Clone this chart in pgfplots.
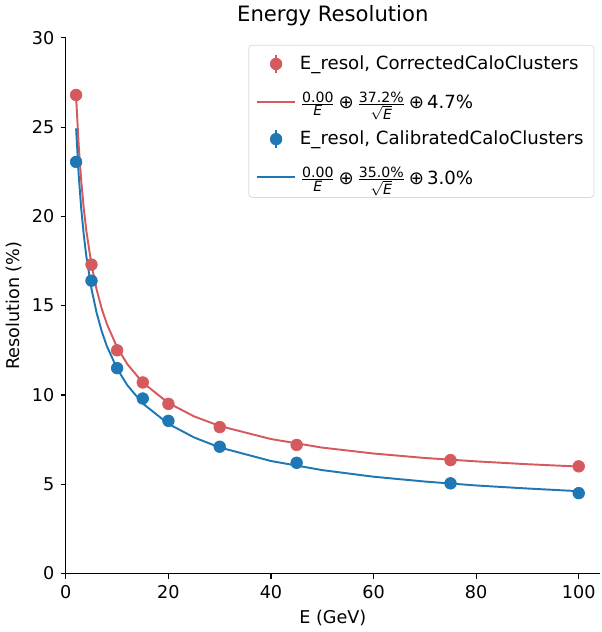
\documentclass[border=0pt]{standalone}
\usepackage{fontspec}
\setmainfont{DejaVu Sans}
\usepackage{pgfplots}
\pgfplotsset{compat=1.18}
\definecolor{cred}{HTML}{D45A5E}
\definecolor{cblue}{HTML}{1F77B4}
\newcommand{\fs}{\fontsize{8}{9}\selectfont}
\newcommand{\fr}[2]{\ensuremath{\frac{\mbox{\fs #1}}{\mbox{\fs #2}}}}
\newcommand{\op}{\,⊕\,}
\begin{document}
\begin{tikzpicture}
\begin{axis}[
  scale only axis,
  width=303pt, height=304pt,
  xmin=0, xmax=104.1, ymin=0, ymax=30,
  axis x line*=bottom, axis y line*=left,
  axis line style={-, line width=0.7pt},
  tick align=outside, major tick length=3pt,
  tick style={black, line width=0.7pt},
  xtick={0,20,40,60,80,100}, ytick={0,5,10,15,20,25,30},
  /pgf/number format/assume math mode=true,
  ticklabel style={font=\fontsize{10}{12}\selectfont},
  xlabel={E (GeV)}, ylabel={Resolution (\%)},
  label style={font=\fontsize{10}{12}\selectfont},
  ylabel style={yshift=-1pt},
  title={Energy Resolution},
  title style={font=\fontsize{12}{14}\selectfont, yshift=-3pt},
  legend style={at={(rel axis cs:0.99,0.987)}, anchor=north east,
    draw=black!15, rounded corners=2pt, font=\fontsize{10.3}{12}\selectfont,
    row sep=7pt, inner sep=4pt},
  legend cell align=left,
  clip=false,
]
\addplot[cred, line width=1.1pt, forget plot] coordinates {
(2,26.72)(2.5,23.99)(3,21.99)(3.5,20.43)(4,19.18)(5,17.29)(6,15.90)(7,14.83)(8,13.97)(10,12.67)(12,11.72)(15,10.69)(20,9.55)(25,8.80)(30,8.26)(40,7.53)(50,7.05)(60,6.72)(70,6.47)(80,6.28)(90,6.12)(100,5.99)};
\addplot[cblue, line width=1.1pt, forget plot] coordinates {
(2,24.93)(2.5,22.34)(3,20.43)(3.5,18.95)(4,17.76)(5,15.94)(6,14.60)(7,13.56)(8,12.73)(10,11.47)(12,10.54)(15,9.52)(20,8.38)(25,7.62)(30,7.06)(40,6.30)(50,5.79)(60,5.42)(70,5.15)(80,4.93)(90,4.76)(100,4.61)};
\addplot[cred, only marks, mark=*, mark size=3.3pt, forget plot,
  error bars/.cd, y dir=both, y explicit, error bar style={line width=1.1pt}, error mark=none]
  coordinates {(2,26.8)+-(0,0.15)(5,17.3)+-(0,0.1)(10,12.5)+-(0,0.1)(15,10.7)+-(0,0.1)(20,9.5)+-(0,0.1)(30,8.2)+-(0,0.1)(45,7.2)+-(0,0.1)(75,6.35)+-(0,0.1)(100,6.0)+-(0,0.1)};
\addplot[cblue, only marks, mark=*, mark size=3.3pt, forget plot,
  error bars/.cd, y dir=both, y explicit, error bar style={line width=1.1pt}, error mark=none]
  coordinates {(2,23.05)+-(0,0.15)(5,16.4)+-(0,0.1)(10,11.5)+-(0,0.1)(15,9.8)+-(0,0.1)(20,8.55)+-(0,0.1)(30,7.1)+-(0,0.1)(45,6.2)+-(0,0.1)(75,5.05)+-(0,0.1)(100,4.5)+-(0,0.1)};
\addlegendimage{legend image code/.code={\draw[cred, line width=1.1pt] (11pt,-5pt)--(11pt,5pt); \fill[cred] (11pt,0pt) circle (3.3pt);}}
\addlegendentry{E\_resol, CorrectedCaloClusters}
\addlegendimage{legend image code/.code={\draw[cred, line width=1.1pt] (0pt,0pt)--(22pt,0pt);}}
\addlegendentry{\fr{0.00}{\itshape E}\op\fr{37.2\%}{$\sqrt{\mbox{\fs\itshape E}}$}\op 4.7\%}
\addlegendimage{legend image code/.code={\draw[cblue, line width=1.1pt] (11pt,-5pt)--(11pt,5pt); \fill[cblue] (11pt,0pt) circle (3.3pt);}}
\addlegendentry{E\_resol, CalibratedCaloClusters}
\addlegendimage{legend image code/.code={\draw[cblue, line width=1.1pt] (0pt,0pt)--(22pt,0pt);}}
\addlegendentry{\fr{0.00}{\itshape E}\op\fr{35.0\%}{$\sqrt{\mbox{\fs\itshape E}}$}\op 3.0\%}
\end{axis}
\end{tikzpicture}
\end{document}
